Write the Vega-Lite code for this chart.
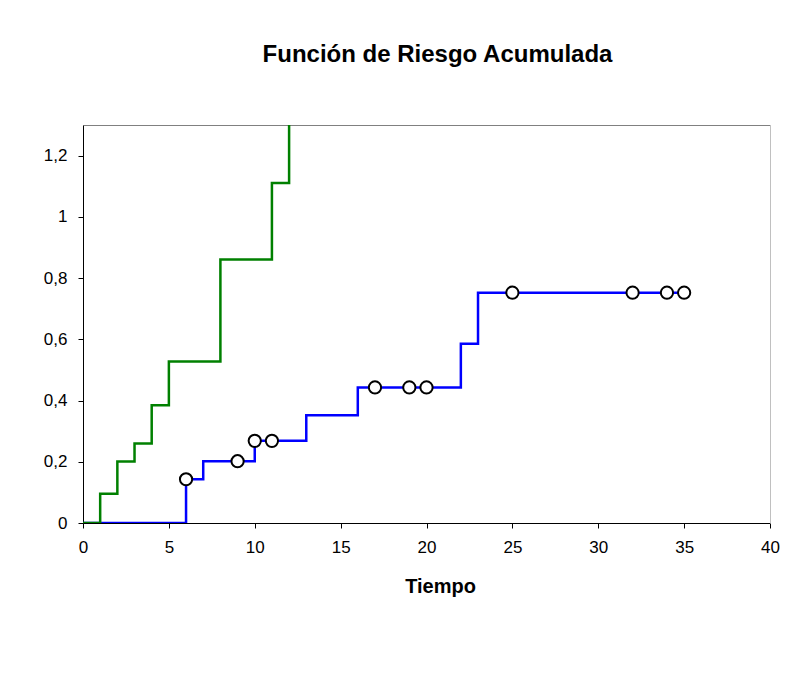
{
  "$schema": "https://vega.github.io/schema/vega-lite/v6.json",
  "autosize": {"type": "none"},
  "padding": {"left": 83, "top": 125, "right": 32, "bottom": 165},
  "width": 687,
  "height": 398,
  "background": "white",
  "config": {
    "view": {"stroke": null},
    "font": "Liberation Sans"
  },
  "title": {
    "text": "Función de Riesgo Acumulada",
    "font": "Liberation Sans",
    "fontSize": 24,
    "fontWeight": "bold",
    "color": "black",
    "anchor": "middle",
    "dx": 11,
    "offset": 58
  },
  "datasets": {
    "hazard": [
      {"t": 0, "h": 0, "g": "6-MP"},
      {"t": 6, "h": 0.1429, "g": "6-MP"},
      {"t": 7, "h": 0.2017, "g": "6-MP"},
      {"t": 10, "h": 0.2683, "g": "6-MP"},
      {"t": 13, "h": 0.3517, "g": "6-MP"},
      {"t": 16, "h": 0.4426, "g": "6-MP"},
      {"t": 22, "h": 0.5854, "g": "6-MP"},
      {"t": 23, "h": 0.7521, "g": "6-MP"},
      {"t": 35, "h": 0.7521, "g": "6-MP"},
      {"t": 0, "h": 0, "g": "Placebo"},
      {"t": 1, "h": 0.0952, "g": "Placebo"},
      {"t": 2, "h": 0.2005, "g": "Placebo"},
      {"t": 3, "h": 0.2594, "g": "Placebo"},
      {"t": 4, "h": 0.3844, "g": "Placebo"},
      {"t": 5, "h": 0.5272, "g": "Placebo"},
      {"t": 8, "h": 0.8606, "g": "Placebo"},
      {"t": 11, "h": 1.1106, "g": "Placebo"},
      {"t": 12, "h": 1.4439, "g": "Placebo"},
      {"t": 15, "h": 1.6939, "g": "Placebo"},
      {"t": 17, "h": 2.0272, "g": "Placebo"},
      {"t": 22, "h": 2.5272, "g": "Placebo"},
      {"t": 23, "h": 3.5272, "g": "Placebo"}
    ],
    "censored": [
      {"t": 6, "h": 0.1429},
      {"t": 9, "h": 0.2017},
      {"t": 10, "h": 0.2683},
      {"t": 11, "h": 0.2683},
      {"t": 17, "h": 0.4426},
      {"t": 19, "h": 0.4426},
      {"t": 20, "h": 0.4426},
      {"t": 25, "h": 0.7521},
      {"t": 32, "h": 0.7521},
      {"t": 34, "h": 0.7521},
      {"t": 35, "h": 0.7521}
    ]
  },
  "resolve": {"axis": {"x": "independent", "y": "independent"}},
  "layer": [
    {
      "data": {"name": "hazard"},
      "transform": [{"filter": "datum.g === '6-MP'"}],
      "mark": {"type": "line", "interpolate": "step-after", "color": "#0000FF", "strokeWidth": 2.5, "clip": true},
      "encoding": {
        "x": {
          "field": "t", "type": "quantitative",
          "scale": {"domain": [0, 40], "nice": false, "zero": true},
          "axis": {
            "orient": "bottom",
            "values": [0, 5, 10, 15, 20, 25, 30, 35, 40],
            "grid": false,
            "domainColor": "black",
            "domainWidth": 1,
            "tickColor": "black",
            "tickSize": 5,
            "labelFont": "Liberation Sans",
            "labelFontSize": 17,
            "labelColor": "black",
            "labelPadding": 11,
            "labelFlush": false,
            "labelOverlap": false,
            "title": "Tiempo",
            "titleFont": "Liberation Sans",
            "titleFontSize": 20,
            "titleFontWeight": "bold",
            "titleColor": "black",
            "titleX": 357,
            "titleY": 69,
            "titleBaseline": "alphabetic",
            "titleAnchor": "middle",
            "encode": {"ticks": {"update": {"y": {"value": -6}}}}
          }
        },
        "y": {
          "field": "h", "type": "quantitative",
          "scale": {"domain": [0, 1.3], "nice": false, "zero": true},
          "axis": {
            "orient": "left",
            "values": [0, 0.2, 0.4, 0.6, 0.8, 1, 1.2],
            "labelExpr": "replace(format(datum.value, '.1~f'), '.', ',')",
            "grid": false,
            "domainColor": "black",
            "domainWidth": 1,
            "tickColor": "black",
            "tickSize": 5,
            "labelFont": "Liberation Sans",
            "labelFontSize": 17,
            "labelColor": "black",
            "labelPadding": 11,
            "labelFlush": false,
            "labelOverlap": false,
            "title": null,
            "encode": {"ticks": {"update": {"x": {"value": 6}}}}
          }
        }
      }
    },
    {
      "data": {"name": "hazard"},
      "transform": [{"filter": "datum.g === 'Placebo'"}],
      "mark": {"type": "line", "interpolate": "step-after", "color": "#008000", "strokeWidth": 2.5, "clip": true},
      "encoding": {
        "x": {
          "field": "t", "type": "quantitative",
          "scale": {"domain": [0, 40], "nice": false, "zero": true},
          "axis": {"orient": "top", "domainColor": "#808080", "domainWidth": 1, "ticks": false, "labels": false, "grid": false, "title": null}
        },
        "y": {
          "field": "h", "type": "quantitative",
          "scale": {"domain": [0, 1.3], "nice": false, "zero": true},
          "axis": {"orient": "right", "domainColor": "#c0c0c0", "domainWidth": 1, "ticks": false, "labels": false, "grid": false, "title": null}
        }
      }
    },
    {
      "data": {"name": "censored"},
      "mark": {"type": "point", "shape": "circle", "filled": true, "fill": "white", "stroke": "black", "strokeWidth": 2, "size": 150, "opacity": 1},
      "encoding": {
        "x": {"field": "t", "type": "quantitative", "scale": {"domain": [0, 40], "nice": false, "zero": true}, "axis": null},
        "y": {"field": "h", "type": "quantitative", "scale": {"domain": [0, 1.3], "nice": false, "zero": true}, "axis": null}
      }
    }
  ]
}
